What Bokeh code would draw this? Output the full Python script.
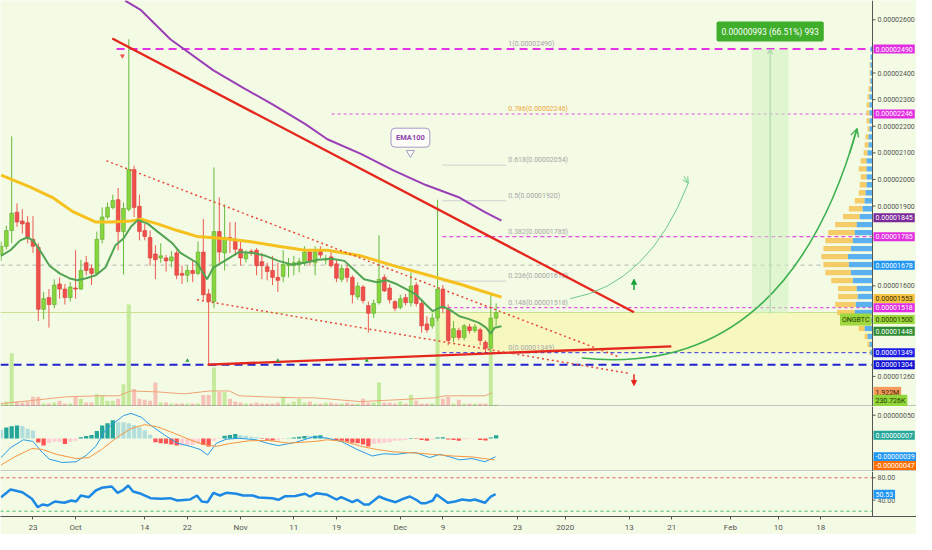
from bokeh.plotting import figure
from bokeh.layouts import column
from bokeh.models import Range1d, FixedTicker, Span, Label, Arrow, OpenHead, NormalHead
from bokeh.embed import file_html
from bokeh.resources import INLINE
from bokeh.core.properties import value

# ------------------------------------------------------------------ data
# daily candles, day 0 = 17 Sep 2019, prices in satoshi (1e-8 BTC)
opens = [1716,1749,1808,1877,1844,1837,1775,1745,1512,1556,
         1530,1607,1588,1556,1592,1588,1687,1665,1647,1775,
         1859,1895,1924,1804,1888,2037,1899,1808,1782,1720,
         1705,1705,1694,1724,1647,1640,1658,1647,1727,1570,
         1541,1804,1724,1782,1775,1738,1702,1727,1734,1691,
         1672,1658,1632,1636,1676,1676,1680,1687,1727,1687,
         1731,1698,1709,1683,1625,1665,1632,1559,1596,1526,
         1497,1537,1632,1592,1541,1519,1556,1537,1603,1534,
         1457,1450,1479,1588,1512,1406,1432,1406,1446,1432,
         1435,1388,1366,1479]
highs = [1767,1826,2162,1910,1888,1862,1862,1760,1577,1588,
         1625,1632,1607,1614,1734,1698,1713,1680,1804,1895,
         1913,1943,1968,1913,2527,2052,1943,1833,1808,1753,
         1760,1716,1731,1734,1676,1676,1694,1767,1851,1588,
         2045,1932,1906,1840,1840,1771,1734,1738,1742,1724,
         1687,1713,1687,1734,1705,1713,1705,1749,1734,1749,
         1749,1716,1734,1698,1680,1680,1640,1614,1603,1541,
         1548,1790,1643,1607,1548,1567,1570,1651,1614,1548,
         1486,1497,1924,1603,1530,1468,1443,1457,1457,1457,
         1443,1395,1567,1534]
lows = [1694,1738,1760,1822,1797,1760,1724,1468,1475,1443,
        1516,1552,1530,1541,1552,1585,1640,1603,1640,1760,
        1851,1888,1734,1643,1880,1859,1771,1771,1676,1625,
        1687,1654,1669,1625,1607,1614,1614,1640,1548,1304,
        1516,1687,1658,1724,1713,1676,1687,1713,1640,1625,
        1621,1603,1577,1614,1632,1640,1651,1676,1676,1640,
        1705,1680,1669,1614,1614,1614,1534,1548,1534,1424,
        1479,1530,1577,1534,1505,1512,1526,1523,1523,1424,
        1424,1439,1468,1497,1377,1388,1395,1395,1421,1424,
        1377,1351,1351,1450]
closes = [1749,1808,1873,1840,1833,1778,1749,1512,1552,1530,
          1603,1588,1556,1596,1588,1658,1658,1647,1775,1859,
          1895,1921,1804,1891,2037,1895,1804,1786,1705,1698,
          1713,1694,1709,1640,1640,1658,1647,1727,1567,1541,
          1804,1727,1782,1778,1738,1705,1720,1724,1676,1676,
          1654,1632,1621,1680,1683,1687,1691,1727,1691,1727,
          1716,1702,1676,1629,1665,1632,1567,1599,1545,1497,
          1534,1625,1581,1548,1516,1552,1537,1599,1534,1450,
          1435,1479,1588,1516,1395,1439,1406,1450,1432,1446,
          1395,1366,1479,1500]
volumes_m = [0.41,0.69,7.5,0.69,0.55,0.69,1.37,1.37,0.41,0.41,
             0.55,0.82,0.41,0.41,1.37,1.10,0.55,0.55,1.78,1.64,
             0.82,0.82,1.10,3.15,14.4,2.47,1.10,0.96,0.82,3.40,
             0.55,0.55,0.41,0.41,0.41,0.41,0.41,0.41,1.64,1.64,
             5.5,2.05,2.05,1.10,0.69,0.55,0.41,0.41,0.55,0.41,
             0.41,0.41,0.55,1.37,0.41,0.69,1.10,0.55,0.69,0.41,
             0.41,0.55,0.55,0.41,0.41,0.55,0.41,0.41,1.10,0.55,
             0.55,3.40,0.55,0.55,0.41,0.69,0.41,1.64,0.82,0.41,
             0.41,0.41,12.3,1.10,1.37,0.41,0.96,0.41,0.41,0.41,
             0.41,0.41,7.9,0.23]
macd_hist = [19,23.5,26.4,28,27,21,17,-8.3,-15,-9.7,
             -6.9,-6.9,-11.8,-7,-4.9,2.8,5.6,7.6,16,28,
             33,39,35,35,33,29,24,18,8,-8,
             -10,-11,-13,-15,-15,-14,-14,-11,-14,-17,
             -5,-1,6,7.6,9.7,7.6,6,4,3,-1,
             -2.5,-4.5,-4.5,-1,0.5,2,4,5.6,5.6,6,
             7,3,1,-3,-5,-7,-9,-10,-13,-17,
             -11,-10,-9,-8,-5,-4,-3,1,-1,-3,
             -5,-2,2,3,-2,-3,-5,-2,-1,-1,
             -3,-4,2,7]

ema_fast_d = [0,1.75,3.6,4.9,6.0,7.3,9.1,11.0,12.8,14.3,16.0,17.8,19.6,21.5,23.0,24.4,25.7,27.6,29.4,32.2,
              33.7,36.8,38.7,39.9,42.3,44.7,47.3,49.7,52.1,54.7,57.1,59.5,62.1,64.5,66.3,68.2,70.6,72.4,74.3,76.1,
              78.0,79.8,81.1,82.9,84.2,86.1,87.9,89.8,91.1,92.0,92.7,94.0]
ema_fast_v = [1713,1734,1771,1782,1771,1734,1676,1647,1629,1621,1629,1640,1669,1753,1778,1822,1848,1833,1804,1760,
              1724,1687,1625,1669,1698,1727,1724,1713,1694,1680,1687,1698,1702,1694,1661,1625,1614,1621,1607,1588,
              1567,1530,1505,1523,1512,1486,1475,1461,1443,1421,1443,1448]
ema50_d = [0,5.4,9.7,13.4,17.8,20.8,24.4,26.3,29.4,33.1,36.8,41.8,46.6,52.1,57.1,61.3,67.6,73.7,79.8,86.1,90.9,94.0]
ema50_v = [2016,1972,1932,1880,1840,1840,1844,1851,1833,1808,1786,1778,1767,1749,1734,1734,1713,1676,1643,1607,1577,1558]
ema100_d = [23.3,26.3,31.8,39.9,45.5,51.0,57.1,61.3,67.6,73.7,79.8,86.1,90.9,94.0]
ema100_v = [2672,2636,2527,2410,2344,2282,2209,2151,2096,2034,1979,1932,1877,1845]
vol_ma_d = [0,5.4,12.3,18.4,22.1,24.4,29.4,34.4,39.2,42.9,44.7,49.2,55.3,58.9,67.6,81.6,83.5,90.9,92.2]
vol_ma_v = [0.41,0.82,1.37,1.51,1.51,2.19,2.06,1.78,2.19,2.19,1.51,1.37,1.23,1.23,0.69,1.23,1.51,1.51,1.92]

macd_d = [0,1.75,4.2,6.0,7.8,9.1,11.5,14.1,16.0,17.8,19.6,21.1,23.0,24.4,26.3,28.1,30.7,33.1,35.5,37.4,
          38.8,40.5,42.3,44.7,47.9,50.3,52.1,55.3,58.9,61.3,63.9,66.9,69.7,71.9,74.3,76.5,78.0,80.5,82.4,84.2,
          86.1,88.5,90.9,92.9]
macd_v = [-41,-20,-2.7,-6.3,-30.6,-44.4,-51.5,-50,-36,-16.7,18,32,49,54,46,28.5,7.7,-9.8,-16.7,-23.5,
          -35.4,-9.8,-1.5,0.6,-2.7,-11,-15.2,-8.3,4.2,0.6,-6.3,-23.5,-37.5,-32.7,-34,-30.6,-30.6,-41,-34,-39,
          -45.8,-43,-50,-39]
signal_d = [0,2.3,5.8,7.8,10.4,14.1,16.5,18.9,22,24.4,27,29.4,32.6,35.5,38.1,40.5,42.9,46.6,50.3,54,
            58.9,61.3,64.5,67.6,70.6,73.7,77.4,81.1,84.8,88.5,92.7]
signal_v = [-57,-41,-21.5,-23.5,-34,-43,-41,-23.5,4.2,21.5,29.8,25,11,-2.7,-13,-16.7,-11,-4.8,-4.2,-9.8,
            -6.3,-2.7,-6.3,-16.7,-23.5,-28.5,-30.6,-34,-37.5,-39.6,-46]

rsi_d = [0,1.8,4.0,5.8,6.9,7.8,8.8,10.1,11.9,13.2,14.1,15.0,16.5,17.8,18.9,20.8,21.9,23.0,23.9,24.8,
         26.3,28.1,30.0,31.8,33.1,35.5,36.8,37.7,38.8,39.9,41.1,42.3,44.2,45.5,47.3,48.4,51.0,52.1,53.4,55.3,
         57.1,58.0,59.3,61.3,63.0,63.9,66.0,66.9,68.2,69.1,71.0,72.4,74.1,75.2,76.8,78.0,78.9,79.8,81.1,81.8,
         83.9,85.3,86.6,88.1,89.0,90.9,92.0,92.9]
rsi_v = [45.2,59,54.1,42.3,27.2,32.1,30.3,37.4,35.1,39.2,37.4,48.2,45.2,57.2,62,64.4,53.1,58.5,66.2,55.4,
         51.3,43.4,42.3,43.4,39.2,41,48.2,37.4,36.2,53.1,48.2,53.1,51.3,48.2,48.2,44.6,43.4,40.5,47,47.3,
         51.3,46.4,52.4,49.5,41,45.2,36.2,40.5,32.1,32.1,46.4,41,36.2,41,46.4,40.5,34.4,34.4,39.2,50,
         35.1,37.4,41,39.2,41,35.1,46.4,50.5]

# volume profile (right side), price bins in satoshi
vp_price = [1350,1380,1410,1440,1470,1500,1530,1560,1590,1620,1650,1680,1710,1740,1770,1800,1830,1860,1890,1920,
            1950,1980,2010,2040,2070,2100,2130,2160,2190,2220,2250,2280,2310,2340,2370,2400,2430,2460,2490]
vp_up = [2,3,5,8,13,18,17,15,16,20,22,24,25,22,20,18,16,13,10,8,7,6,6,6,6,5,4,4,3,3,3,3,3,2,2,2,2,2,2]
vp_down = [1,2,3,6,12,18,21,20,19,22,26,26,27,28,28,27,22,17,14,10,7,7,6,8,6,4,4,3,2,3,3,3,2,2,1,1,1,0,0]

# fibonacci retracement 0 -> 1
fib_ratio = ["1", "0.786", "0.618", "0.5", "0.382", "0.236", "0.148", "0"]
fib_price = [2490, 2246, 2054, 1920, 1785, 1618, 1518, 1349]

# drawings (day, price)
trend_down_d = [20.9, 118.9]; trend_down_p = [2530, 1501]
trend_up_d = [38.8, 125.9];   trend_up_p = [1304, 1373]
chan_top_d = [19.8, 116.1];   chan_top_p = [2070, 1333]
chan_bot_d = [36.8, 118.0];   chan_bot_p = [1548, 1271]
big_curve = dict(x0=109.1, y0=1329, cx=147.5, cy=1249, x1=160.8, y1=2191)
small_curve = dict(x0=106.9, y0=1552, cx=121.7, cy=1605, x1=129.1, y1=1986)
target_low, target_high = 1497, 2490
target_days = [141.05, 147.9]

x_ticks = [6, 14, 27, 35, 45, 55, 63, 75, 83, 97, 106, 118, 126, 137, 146, 154]
x_tick_labels = ["23", "Oct", "14", "22", "Nov", "11", "19", "Dec", "9", "23", "2020", "13", "21", "Feb", "10", "18"]
price_ticks = [2600, 2400, 2300, 2200, 2100, 2000, 1900, 1600, 1260]
macd_ticks = [50]
rsi_ticks = [80, 40]

# ------------------------------------------------------------------ style
BG = "#f3fbe4"
AX = "#555555"
FONT = "Roboto"
W = 916
X0, X1 = -0.1, 163.7           # chart area (days)
PXD = 872 / (X1 - X0)          # pixels per day
XR = X1 + 44 / PXD             # includes the price-scale strip
TICK = 3 / PXD
days = list(range(len(closes)))
xr = Range1d(X0, XR)


def make_fig(h, y0, y1, xaxis=False):
    p = figure(width=W, height=h, x_range=xr, y_range=Range1d(y0, y1),
               output_backend="svg", toolbar_location=None,
               x_axis_location="below" if xaxis else None, y_axis_location=None,
               min_border_left=0, min_border_right=0, min_border_top=0, min_border_bottom=0,
               background_fill_color=BG, border_fill_color=BG, outline_line_color=None)
    p.grid.visible = False
    p.add_layout(Span(location=X1, dimension="height", line_color=AX, line_width=1))
    return p


def scale(p, ticks, labels):
    n = len(ticks)
    p.segment(x0=[X1] * n, x1=[X1 + TICK] * n, y0=ticks, y1=ticks, line_color=AX, line_width=1)
    p.text(x=[X1 + TICK + 2 / PXD] * n, y=ticks, text=labels, text_color=AX,
           text_font=value(FONT), text_font_size="7px", text_baseline="middle")


def tag(p, y, txt, bg, fg="white", dy=0, yr="default", right=False):
    p.add_layout(Label(x=X1, y=y, text=txt, x_offset=-1 if right else 1, y_offset=dy,
                       text_align="right" if right else "left", text_baseline="middle",
                       text_font=FONT, text_font_size="7px", text_color=fg,
                       background_fill_color=bg, padding=2, y_range_name=yr))


# ------------------------------------------------------------------ main panel
pm = make_fig(406, 1146.8, 2672.5)
pm.extra_y_ranges = {"vol": Range1d(0, 57.3)}
scale(pm, price_ticks, ["0.0000%d" % t for t in price_ticks])

# highlighted zone and horizontal levels
pm.quad(left=[81.7], right=[X1], bottom=[fib_price[-1]], top=[closes[-1]], fill_color="#f8f6b4",
        fill_alpha=0.75, line_color=None)
pm.line([X0, X1], [closes[-1]] * 2, line_color="#c9e38c", line_width=1)
pm.line([X0, X1], [1678, 1678], line_color="#b4b4b4", line_width=1, line_dash="4 4")
pm.line([X0, X1], [1304, 1304], line_color="#2222d0", line_width=2, line_dash="8 5")
pm.line([21.7, X1], [fib_price[0]] * 2, line_color="#e632e6", line_width=2, line_dash="8 5")
pm.line([62.1, X1], [fib_price[1]] * 2, line_color="#e24de2", line_width=1.2, line_dash="3 3")
for lv in (fib_price[2], fib_price[3], fib_price[5]):
    pm.line([82.9, 94.9], [lv, lv], line_color="#cfcfcf", line_width=1)
pm.line([82.9, X1], [fib_price[4]] * 2, line_color="#e24de2", line_width=1.2, line_dash="4 3")
pm.line([82.9, X1], [fib_price[6]] * 2, line_color="#e24de2", line_width=1.2, line_dash="3 3")
pm.line([82.9, X1], [fib_price[7]] * 2, line_color="#3030e0", line_width=1, line_dash="4 3")
fib_txt = ["%s(0.0000%d)" % (r, v) for r, v in zip(fib_ratio, fib_price)]
fib_col = ["#a6a6a6", "#eea63c"] + ["#a6a6a6"] * 6
pm.text(x=[95.3] * len(fib_price), y=fib_price, text=fib_txt, text_color=fib_col,
        text_font=value(FONT), text_font_size="7px", text_baseline="bottom", y_offset=-1)

# target box
pm.quad(left=[target_days[0]], right=[target_days[1]], bottom=[target_low], top=[target_high],
        fill_color="#cdf3bf", fill_alpha=0.55, line_color=None)
pm.add_layout(Arrow(end=OpenHead(size=5, line_color="#9ccd9c", line_width=1),
                    x_start=sum(target_days) / 2, y_start=target_low,
                    x_end=sum(target_days) / 2, y_end=target_high, line_color="#a8d4a8", line_width=1))
pm.add_layout(Label(x=sum(target_days) / 2, y=2556,
                    text="0.00000993 (66.51%) 993", text_align="center", text_baseline="middle",
                    text_font=FONT, text_font_size="8.5px", text_color="white",
                    background_fill_color="#3fae2a", padding=5, border_radius=2))

# volume
vcol = ["#bde68f" if c >= o else "#f6b7ae" for o, c in zip(opens, closes)]
pm.vbar(x=days, top=volumes_m, width=0.75, bottom=0, fill_color=vcol, line_color=None,
        fill_alpha=0.85, y_range_name="vol")
pm.line(vol_ma_d, vol_ma_v, line_color="#f0a277", line_width=1, y_range_name="vol")

# volume profile
k = 1 / 5.42
pm.hbar(y=vp_price, left=[X1 - (u + d) * k for u, d in zip(vp_up, vp_down)],
        right=[X1 - u * k for u in vp_up], height=20, fill_color="#f5c75a", line_color=None, fill_alpha=0.9)
pm.hbar(y=vp_price, left=[X1 - u * k for u in vp_up], right=X1, height=20,
        fill_color="#4aa8f0", line_color=None, fill_alpha=0.9)

# candles
up = [c >= o for o, c in zip(opens, closes)]
wick_col = ["#66bb3c" if u else "#ee5a55" for u in up]
pm.segment(x0=days, y0=lows, x1=days, y1=highs, line_color=wick_col, line_width=1)
pm.vbar(x=days, bottom=[min(o, c) for o, c in zip(opens, closes)],
        top=[max(o, c) + (0 if abs(o - c) > 3 else 3) for o, c in zip(opens, closes)],
        width=0.7, fill_color=["#86d63c" if u else "#f0504b" for u in up],
        line_color=["#5ea82c" if u else "#d83c38" for u in up], line_width=0.6)

# moving averages
pm.line(ema100_d, ema100_v, line_color="#9a3fb6", line_width=2)
pm.line(ema50_d, ema50_v, line_color="#f6c11e", line_width=3)
pm.line(ema_fast_d, ema_fast_v, line_color="#52a452", line_width=2)

# trend lines / channel
pm.line(trend_down_d, trend_down_p, line_color="#e5261c", line_width=2.3)
pm.line(trend_up_d, trend_up_p, line_color="#e5261c", line_width=2.3)
pm.line(chan_top_d, chan_top_p, line_color="#e8493a", line_width=1.5, line_dash="2 3")
pm.line(chan_bot_d, chan_bot_p, line_color="#e8493a", line_width=1.5, line_dash="2 3")

# projection curves
pm.quadratic(x0=[small_curve["x0"]], y0=[small_curve["y0"]], x1=[small_curve["x1"]], y1=[small_curve["y1"]],
             cx=[small_curve["cx"]], cy=[small_curve["cy"]], line_color="#6ec98a", line_width=1)
pm.add_layout(Arrow(end=OpenHead(size=6, line_color="#6ec98a", line_width=1), x_start=128.3, y_start=2012,
                    x_end=small_curve["x1"], y_end=small_curve["y1"], line_color="#6ec98a", line_width=1))
pm.quadratic(x0=[big_curve["x0"]], y0=[big_curve["y0"]], x1=[big_curve["x1"]], y1=[big_curve["y1"]],
             cx=[big_curve["cx"]], cy=[big_curve["cy"]], line_color="#3fb04f", line_width=1.6)
pm.add_layout(Arrow(end=OpenHead(size=8, line_color="#3fb04f", line_width=1.4), x_start=159.4, y_start=2099,
                    x_end=big_curve["x1"], y_end=big_curve["y1"], line_color="#3fb04f", line_width=1.6))
pm.add_layout(Arrow(end=NormalHead(size=5, fill_color="#18a33a", line_color="#18a33a"),
                    x_start=118.9, y_start=1585, x_end=118.9, y_end=1625, line_color="#18a33a", line_width=1.5))
pm.add_layout(Arrow(end=NormalHead(size=5, fill_color="#e3231b", line_color="#e3231b"),
                    x_start=118.9, y_start=1268, x_end=118.9, y_end=1226, line_color="#e3231b", line_width=1.5))

# small signal markers
pm.scatter([22.8], [2464], marker="inverted_triangle", size=5, fill_color="#f0504b", line_color=None)
pm.scatter([35, 52, 68.7], [1319] * 3, marker="triangle", size=4, fill_color="#2e9e3e", line_color=None)

# EMA100 callout
pm.scatter([76.9], [2100], marker="inverted_triangle", size=8, fill_color="#fbfdf6", line_color="#a898c6")
pm.add_layout(Label(x=76.9, y=2157, text="EMA100", text_align="center", text_baseline="middle",
                    text_font=FONT, text_font_size="7.5px", text_font_style="bold", text_color="#8e44ad",
                    background_fill_color="#fbfdf6", border_line_color="#a898c6", padding=5, border_radius=4))

# separator
pm.add_layout(Span(location=1148, dimension="width", line_color=AX, line_width=1))

# price tags on the scale
tag(pm, 2490, "0.00002490", "#e22ee2")
tag(pm, 2246, "0.00002246", "#e22ee2")
tag(pm, 1845, "0.00001845", "#7b2a9a", dy=3)
tag(pm, 1785, "0.00001785", "#e22ee2")
tag(pm, 1678, "0.00001678", "#2196f3")
tag(pm, 1553, "0.00001553", "#f6c343", fg="#3a3000")
tag(pm, 1518, "0.00001518", "#e22ee2")
tag(pm, 1500, "0.00001500", "#9fd83e", fg="#1f3a00", dy=-7)
tag(pm, 1500, "ONGBTC", "#9fd83e", fg="#1f3a00", dy=-7, right=True)
tag(pm, 1448, "0.00001448", "#2e8b33", dy=-5)
tag(pm, 1349, "0.00001349", "#1d1de6")
tag(pm, 1304, "0.00001304", "#1212d4")
tag(pm, 1.922, "1.922M", "#f59a5c", fg="#3a1a00", yr="vol")
tag(pm, 0.23, "230.726K", "#92d63c", fg="#1f3a00", dy=4, yr="vol")

# ------------------------------------------------------------------ MACD panel
pd_ = make_fig(65, -70.8, 68.75)
scale(pd_, macd_ticks, ["0.000000%d" % t for t in macd_ticks])
hcol = []
for i, hv in enumerate(macd_hist):
    prev = macd_hist[i - 1] if i else hv
    if hv >= 0:
        hcol.append("#26a69a" if hv > prev else "#b2dfdb")
    else:
        hcol.append("#ff5252" if hv < prev else "#ffcdd2")
pd_.vbar(x=days, top=macd_hist, bottom=0, width=0.8, fill_color=hcol, line_color=None)
pd_.line(macd_d, macd_v, line_color="#2b9be6", line_width=1)
pd_.line(signal_d, signal_v, line_color="#f7953f", line_width=1)
pd_.add_layout(Span(location=-70.2, dimension="width", line_color=AX, line_width=1))
tag(pd_, 7, "0.00000007", "#26a69a")
tag(pd_, -39, "-0.00000039", "#2196f3")
tag(pd_, -47, "-0.00000047", "#ff6d00", dy=-5)

# ------------------------------------------------------------------ RSI panel
pr = make_fig(63, 10.5, 91.3, xaxis=True)
scale(pr, rsi_ticks, ["%.2f" % t for t in rsi_ticks])
pr.line([X0, X1], [80, 80], line_color="#e05a5a", line_width=1, line_dash="3 3")
pr.line([X0, X1], [20, 20], line_color="#45b86a", line_width=1, line_dash="3 3")
pr.line(rsi_d, rsi_v, line_color="#1e88e5", line_width=2.5)
tag(pr, 50.53, "50.53", "#2196f3")
xa = pr.xaxis[0]
xa.ticker = FixedTicker(ticks=x_ticks)
xa.major_label_overrides = dict(zip(x_ticks, x_tick_labels))
xa.axis_line_color = AX
xa.major_tick_line_color = AX
xa.minor_tick_line_color = None
xa.major_tick_out = 3
xa.major_tick_in = 0
xa.major_label_standoff = 3
xa.major_label_text_font = FONT
xa.major_label_text_font_size = "8px"
xa.major_label_text_color = AX

layout = column(pm, pd_, pr, spacing=0)
open("out.html", "w").write(file_html(layout, INLINE, "ONGBTC"))
